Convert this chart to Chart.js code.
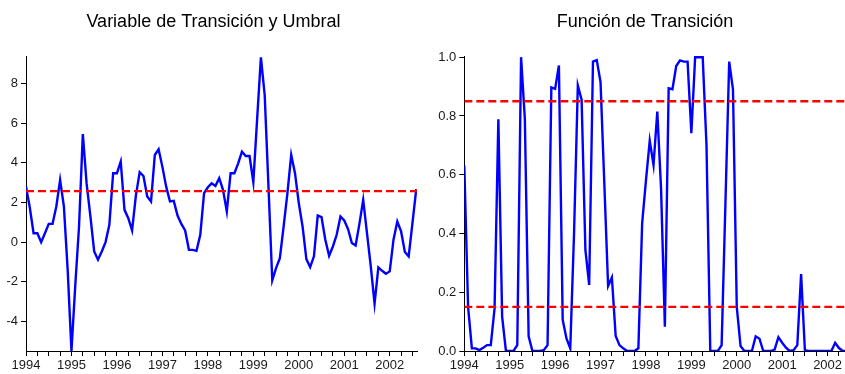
<!DOCTYPE html>
<html>
<head>
<meta charset="utf-8">
<script src="https://cdn.jsdelivr.net/npm/chart.js@4/dist/chart.umd.min.js"></script>
<style>
  html, body { margin: 0; padding: 0; background: #ffffff; }
  #wrap { position: relative; width: 845px; height: 374px; overflow: hidden; background: #ffffff; }
  canvas { position: absolute; top: 0; }
  #cLeft { left: 0; }
  #cRight { left: 425px; }
</style>
</head>
<body>
<div id="wrap">
  <canvas id="cLeft" width="427" height="374"></canvas>
  <canvas id="cRight" width="440" height="374"></canvas>
</div>
<script>
// Monthly series starting January 1994
const startYear = 1994;

// Transition variable (monthly), Jan 1994 - Aug 2002
const transitionVariable = [
  2.81, 1.75, 0.45, 0.45, 0.00, 0.45, 0.92, 0.92, 1.80, 3.14, 1.80, -1.40,
  -5.50, -2.20, 0.80, 5.46, 2.95, 1.30, -0.47, -0.89, -0.47, 0.00, 0.87, 3.48,
  3.48, 4.07, 1.63, 1.21, 0.59, 2.35, 3.53, 3.34, 2.30, 2.05, 4.40, 4.69,
  3.80, 2.80, 2.05, 2.08, 1.34, 0.92, 0.59, -0.39, -0.39, -0.44, 0.37, 2.47,
  2.77, 2.97, 2.84, 3.23, 2.64, 1.55, 3.48, 3.48, 3.98, 4.57, 4.35, 4.35,
  3.03, 6.20, 9.33, 7.43, 2.80, -1.93, -1.31, -0.81, 0.79, 2.47, 4.40, 3.48,
  1.97, 0.79, -0.86, -1.26, -0.72, 1.34, 1.26, 0.12, -0.69, -0.22, 0.37, 1.29,
  1.09, 0.66, -0.05, -0.17, 0.92, 2.13, 0.45, -1.23, -3.11, -1.28, -1.45, -1.60,
  -1.48, 0.12, 1.04, 0.54, -0.50, -0.72, 0.96, 2.67
];

// Threshold of the transition variable
const thresholdValue = 2.57;

// Transition function G (monthly), Jan 1994 onwards
const transitionFunction = [
  0.631, 0.150, 0.009, 0.009, 0.003, 0.011, 0.020, 0.020, 0.145, 0.789, 0.117, 0.000,
  0.000, 0.000, 0.020, 1.000, 0.790, 0.050, 0.000, 0.000, 0.000, 0.003, 0.020, 0.897,
  0.892, 0.972, 0.106, 0.043, 0.009, 0.400, 0.904, 0.855, 0.344, 0.225, 0.985, 0.990,
  0.915, 0.570, 0.221, 0.250, 0.051, 0.020, 0.009, 0.000, 0.000, 0.000, 0.009, 0.435,
  0.580, 0.716, 0.633, 0.815, 0.550, 0.083, 0.894, 0.891, 0.970, 0.989, 0.985, 0.985,
  0.741, 1.000, 1.000, 1.000, 0.700, 0.000, 0.000, 0.000, 0.020, 0.500, 0.985, 0.890,
  0.150, 0.017, 0.000, 0.000, 0.000, 0.050, 0.042, 0.000, 0.000, 0.000, 0.005, 0.047,
  0.028, 0.011, 0.000, 0.003, 0.020, 0.262, 0.003, 0.000, 0.000, 0.000, 0.000, 0.000,
  0.000, 0.000, 0.028, 0.010, 0.000, 0.000
];

// Reference bands of the transition function
const bandValues = [0.15, 0.85];

// Tick values
const leftYTicks = [-4, -2, 0, 2, 4, 6, 8];
const rightYTicks = [0.0, 0.2, 0.4, 0.6, 0.8, 1.0];
const yearLabels = [1994, 1995, 1996, 1997, 1998, 1999, 2000, 2001, 2002];

const FONT = "'Liberation Sans', Arial, Helvetica, sans-serif";
const TEXT = '#1a1a1a';

function toPoints(values) {
  return values.map((v, i) => ({ x: i, y: v }));
}

function hLine(value, xMax) {
  return {
    data: [{ x: 0, y: value }, { x: xMax, y: value }],
    borderColor: '#ff0000',
    borderWidth: 2.3,
    borderDash: [8, 4],
    pointRadius: 0,
    order: 0
  };
}

function quarterTicks(xMax) {
  const t = [];
  for (let m = 0; m <= xMax; m += 3) t.push({ value: m });
  return t;
}

function makeOptions(cfg) {
  return {
    responsive: false,
    animation: false,
    devicePixelRatio: 1,
    layout: { padding: 0 },
    plugins: {
      legend: { display: false },
      tooltip: { enabled: false },
      title: {
        display: true,
        text: cfg.title,
        color: '#000000',
        font: { family: FONT, size: 18, weight: 'normal', lineHeight: 1.2 },
        padding: { top: 11.5, bottom: 22.9 }
      }
    },
    scales: {
      x: {
        type: 'linear',
        min: 0,
        max: cfg.xMax,
        afterBuildTicks: (s) => { s.ticks = quarterTicks(cfg.xMax); },
        afterFit: (s) => { s.height = 23; },
        grid: { display: true, drawOnChartArea: false, drawTicks: true, tickLength: 5, color: '#000000', lineWidth: 1 },
        border: { display: true, color: '#000000', width: 1 },
        ticks: {
          autoSkip: false,
          maxRotation: 0,
          minRotation: 0,
          padding: 2,
          color: TEXT,
          font: { family: FONT, size: 13 },
          callback: (v) => (v % 12 === 0 ? String(yearLabels[v / 12]) : '')
        }
      },
      y: {
        type: 'linear',
        min: cfg.yMin,
        max: cfg.yMax,
        afterBuildTicks: (s) => { s.ticks = cfg.yTicks.map(v => ({ value: v })); },
        afterFit: (s) => { s.width = cfg.yWidth; },
        grid: { display: true, drawOnChartArea: false, drawTicks: true, tickLength: 5, color: '#000000', lineWidth: 1 },
        border: { display: true, color: '#000000', width: 1 },
        ticks: {
          padding: 3,
          color: TEXT,
          font: { family: FONT, size: 13 },
          callback: cfg.yFormat
        }
      },
      // empty margin on the right of the plot area
      gap: {
        type: 'linear',
        position: 'right',
        display: true,
        grid: { display: false },
        border: { display: false },
        ticks: { display: false },
        afterFit: (s) => { s.width = cfg.gapRight; }
      }
    }
  };
}

const leftXMax = 103.2;
new Chart(document.getElementById('cLeft'), {
  type: 'line',
  data: {
    datasets: [
      hLine(thresholdValue, leftXMax),
      {
        data: toPoints(transitionVariable),
        borderColor: '#0000ff',
        borderWidth: 2.4,
        pointRadius: 0,
        tension: 0,
        order: 1
      }
    ]
  },
  options: makeOptions({
    title: 'Variable de Transición y Umbral',
    yWidth: 26, gapRight: 10,
    xMax: leftXMax, yMin: -5.5, yMax: 9.4,
    yTicks: leftYTicks,
    yFormat: (v) => String(v)
  })
});

const rightXMax = 100.6;
new Chart(document.getElementById('cRight'), {
  type: 'line',
  data: {
    datasets: [
      ...bandValues.map(b => hLine(b, rightXMax)),
      {
        data: toPoints(transitionFunction),
        borderColor: '#0000ff',
        borderWidth: 2.4,
        pointRadius: 0,
        tension: 0,
        order: 1
      }
    ]
  },
  options: makeOptions({
    title: 'Función de Transición',
    yWidth: 39.3, gapRight: 20,
    xMax: rightXMax, yMin: 0, yMax: 1.004,
    yTicks: rightYTicks,
    yFormat: (v) => Number(v).toFixed(1)
  })
});
</script>
</body>
</html>
